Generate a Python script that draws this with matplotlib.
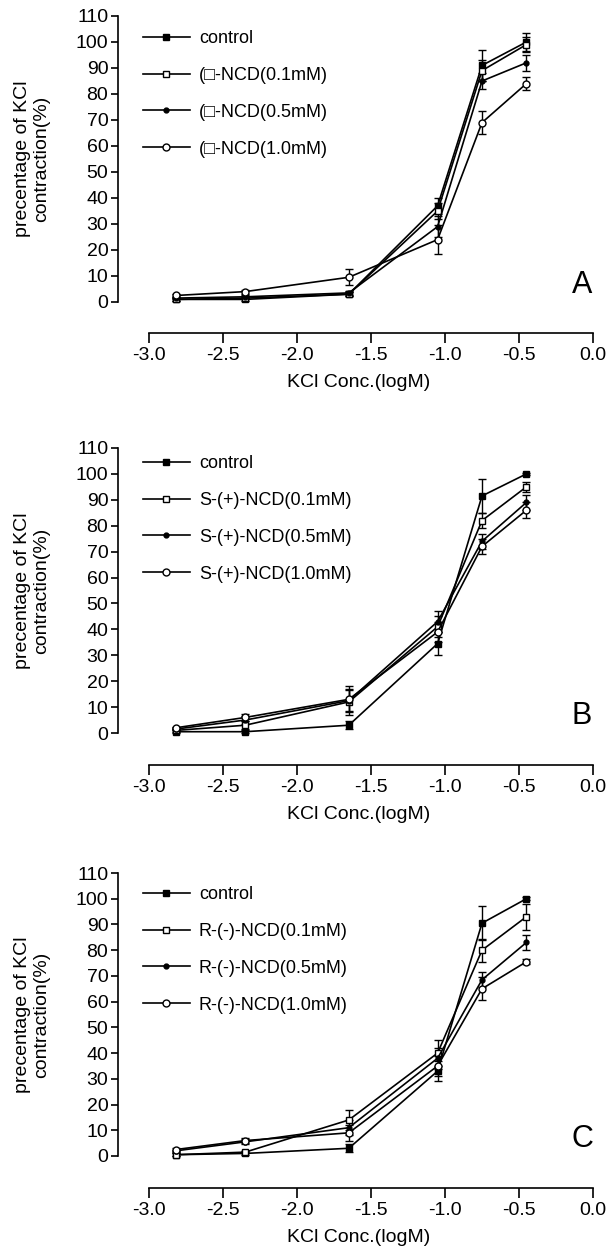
import matplotlib

matplotlib.use('Agg')
import matplotlib.pyplot as plt
import numpy as np

plt.rcParams['font.family'] = ['Liberation Sans', 'DejaVu Sans']

# KCl concentration (log M)
logkcl = [-2.82, -2.35, -1.65, -1.05, -0.75, -0.45]

labels_a = ['control', '(\u25a1-NCD(0.1mM)', '(\u25a1-NCD(0.5mM)', '(\u25a1-NCD(1.0mM)']
labels_b = ['control', 'S-(+)-NCD(0.1mM)', 'S-(+)-NCD(0.5mM)', 'S-(+)-NCD(1.0mM)']
labels_c = ['control', 'R-(-)-NCD(0.1mM)', 'R-(-)-NCD(0.5mM)', 'R-(-)-NCD(1.0mM)']

# panel A means / sem
a_ctrl = [1, 1, 3, 37, 91, 100]
a_01 = [1, 1.5, 3, 35, 89, 99]
a_05 = [1.5, 2, 3.5, 29, 85, 92]
a_10 = [2.5, 4, 9.5, 24, 69, 84]
a_ctrl_e = [0.5, 0.5, 0.8, 3, 6, 3.5]
a_01_e = [0.5, 0.5, 0.8, 3, 4, 3]
a_05_e = [0.5, 0.5, 0.8, 4, 3, 3]
a_10_e = [0.5, 0.8, 3, 5.5, 4.5, 2.5]

# panel B
b_ctrl = [0.5, 0.5, 3, 34.5, 91.5, 100]
b_01 = [1, 3, 12, 41, 82, 95]
b_05 = [1.5, 5, 12.5, 43, 74, 89]
b_10 = [2, 6, 13, 39, 72, 86]
b_ctrl_e = [0.5, 0.5, 1.5, 4.5, 6.5, 0.5]
b_01_e = [0.5, 1.5, 5, 4, 3, 2]
b_05_e = [0.5, 1.5, 4, 4, 3, 3]
b_10_e = [0.5, 1.5, 5, 4, 3, 3]

# panel C
c_ctrl = [0.5, 1, 3, 33, 90.5, 100]
c_01 = [0.5, 1.5, 14, 40, 80, 93]
c_05 = [2, 5.5, 11, 38, 68.5, 83]
c_10 = [2.5, 6, 9, 35, 65, 75.5]
c_ctrl_e = [0.5, 0.5, 1.5, 4, 6.5, 0.5]
c_01_e = [0.5, 0.5, 4, 5, 4.5, 5]
c_05_e = [0.5, 1, 3, 4, 3, 3]
c_10_e = [0.5, 1, 3, 4, 4.5, 1]

W, H = 611, 1260
fig = plt.figure(figsize=(W / 100, H / 100), dpi=100)

styles = [dict(marker='s', ms=4, mfc='black'),
          dict(marker='s', ms=5, mfc='white'),
          dict(marker='o', ms=3.5, mfc='black'),
          dict(marker='o', ms=5, mfc='white')]

# (pixel y of 110, pixel y of 0, pixel y of x-axis, first legend row, letter)
panels = [
    (16, 302, 333, 39, 'A', labels_a,
     [a_ctrl, a_01, a_05, a_10], [a_ctrl_e, a_01_e, a_05_e, a_10_e]),
    (448, 733, 765, 464, 'B', labels_b,
     [b_ctrl, b_01, b_05, b_10], [b_ctrl_e, b_01_e, b_05_e, b_10_e]),
    (873, 1156, 1188, 895, 'C', labels_c,
     [c_ctrl, c_01, c_05, c_10], [c_ctrl_e, c_01_e, c_05_e, c_10_e]),
]

x_left, x_right = 118, 600
x_m3 = 149
ppx = 148.0

for top, zero, xaxis, leg_y, letter, labels, means, errs in panels:
    ax = fig.add_axes([x_left / W, 1 - xaxis / H, (x_right - x_left) / W, (xaxis - top) / H])
    ppy = (zero - top) / 110.0
    ax.set_ylim(-(xaxis - zero) / ppy, 110)
    ax.set_xlim(-3 - (x_m3 - x_left) / ppx, -3 + (x_right - x_m3) / ppx)

    handles = []
    for m, e, st in zip(means, errs, styles):
        h = ax.errorbar(logkcl, m, yerr=e, color='black', lw=1.2, mec='black', mew=1.0,
                        elinewidth=1.0, capsize=3, capthick=1.0, clip_on=False, **st)
        handles.append(h)

    for s in ['top', 'right']:
        ax.spines[s].set_visible(False)
    ax.spines['left'].set_bounds(0, 110)
    ax.spines['bottom'].set_bounds(-3, 0)
    ax.spines['left'].set_linewidth(1.2)
    ax.spines['bottom'].set_linewidth(1.2)

    ax.set_yticks(np.arange(0, 111, 10))
    ax.set_xticks(np.arange(-3.0, 0.01, 0.5))
    ax.set_xticklabels(['%.1f' % v for v in np.arange(-3.0, 0.01, 0.5)])
    ax.tick_params(axis='y', direction='out', length=5, width=1.2, labelsize=14, pad=2)
    ax.tick_params(axis='x', direction='out', length=7, width=1.2, labelsize=14, pad=3)
    ax.set_xlabel('KCl Conc.(logM)', fontsize=14, labelpad=7)

    lines = [h[0] for h in handles]
    ax.legend(lines, labels, loc='upper left', frameon=False, fontsize=13,
              bbox_to_anchor=(143 / W, 1 - (leg_y - 9) / H), bbox_transform=fig.transFigure,
              borderpad=0, borderaxespad=0, handlelength=2.6, handletextpad=0.5,
              labelspacing=1.1, numpoints=1)

    fig.text(32 / W, 1 - ((top + zero) / 2) / H, 'precentage of KCl\ncontraction(%)',
             rotation=90, ha='center', va='center', fontsize=14, multialignment='center',
             linespacing=1.15)
    fig.text(582 / W, 1 - (zero - 17) / H, letter, ha='center', va='center', fontsize=22)

plt.savefig('out.png', dpi=100)
